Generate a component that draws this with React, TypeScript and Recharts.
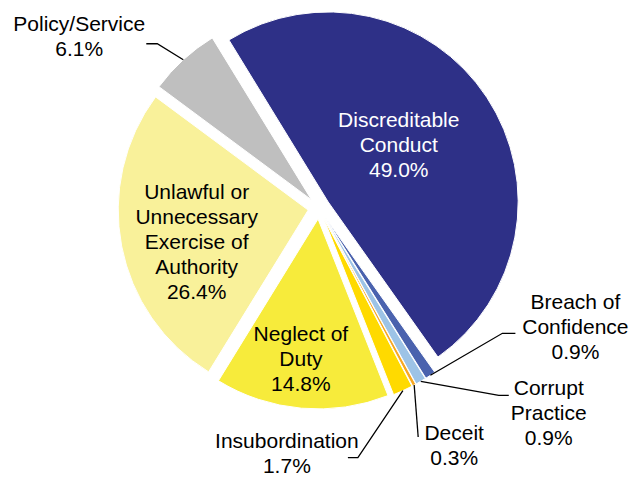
import React from 'react';
import { PieChart, Pie, Cell, Sector } from 'recharts';

// ---- data ----
const categories: string[] = [
  'Discreditable Conduct',
  'Breach of Confidence',
  'Corrupt Practice',
  'Deceit',
  'Insubordination',
  'Neglect of Duty',
  'Unlawful or Unnecessary Exercise of Authority',
  'Policy/Service',
];
const values: number[] = [49.0, 0.9, 0.9, 0.3, 1.7, 14.8, 26.4, 6.1];
const labelLines: string[][] = [
  ['Discreditable', 'Conduct'],
  ['Breach of', 'Confidence'],
  ['Corrupt', 'Practice'],
  ['Deceit'],
  ['Insubordination'],
  ['Neglect of', 'Duty'],
  ['Unlawful or', 'Unnecessary', 'Exercise of', 'Authority'],
  ['Policy/Service'],
];

// ---- styles ----
const COLORS = ['#2E3087', '#4A62AE', '#9DC3E6', '#F7A823', '#FFDA00', '#F7EB3B', '#F9F19A', '#BFBFBF'];
const EXPLODE = 11;
const FONT = '"Liberation Sans", Arial, sans-serif';
const FONT_SIZE = 21;
const LINE_H = 25;

type LabelSpec =
  | { kind: 'in'; r: number; da: number; color: string }
  | { kind: 'out'; e: [number, number]; h: number; t: [number, number] };

const LABEL_SPEC: LabelSpec[] = [
  { kind: 'in', r: 0.48, da: 5.9, color: '#FFFFFF' },
  { kind: 'out', e: [72, -42], h: 13, t: [60, -7] },
  { kind: 'out', e: [78, 14], h: 10, t: [40, 17] },
  { kind: 'out', e: [4, 52], h: 0, t: [36, 7.5] },
  { kind: 'out', e: [-45, 67], h: -10, t: [-61, -4.5] },
  { kind: 'in', r: 0.74, da: -2, color: '#000000' },
  { kind: 'in', r: 0.61, da: 4.9, color: '#000000' },
  { kind: 'out', e: [-26, -16], h: -11, t: [-67, -8] },
];

const data = categories.map((name, i) => ({ name, value: values[i] }));

const RAD = Math.PI / 180;

function TextBlock({ x, y, lines, color }: { x: number; y: number; lines: string[]; color: string }) {
  const n = lines.length;
  return (
    <g>
      {lines.map((ln, k) => (
        <text
          key={k}
          x={x}
          y={y + (k - (n - 1) / 2) * LINE_H}
          textAnchor="middle"
          dominantBaseline="central"
          fontFamily={FONT}
          fontSize={FONT_SIZE}
          fill={color}
        >
          {ln}
        </text>
      ))}
    </g>
  );
}

const renderLabel = (p: any) => {
  const i: number = p.index;
  const mid: number = p.midAngle;
  const R: number = p.outerRadius;
  const ex = p.cx + EXPLODE * Math.cos(-mid * RAD);
  const ey = p.cy + EXPLODE * Math.sin(-mid * RAD);
  const spec = LABEL_SPEC[i];
  const lines = [...labelLines[i], `${values[i].toFixed(1)}%`];
  let deco: React.ReactNode = null;
  if (spec.kind === 'in') {
    const a = mid + spec.da;
    const x = ex + spec.r * R * Math.cos(-a * RAD);
    const y = ey + spec.r * R * Math.sin(-a * RAD);
    deco = <TextBlock x={x} y={y} lines={lines} color={spec.color} />;
  } else {
    const sx = ex + R * Math.cos(-mid * RAD);
    const sy = ey + R * Math.sin(-mid * RAD);
    const bx = sx + spec.e[0];
    const by = sy + spec.e[1];
    const tx = bx + spec.h;
    const ty = by;
    deco = (
      <g>
        <polyline
          points={`${sx},${sy} ${bx},${by} ${tx},${ty}`}
          fill="none"
          stroke="#000"
          strokeWidth={1.3}
        />
        <TextBlock x={tx + spec.t[0]} y={ty + spec.t[1]} lines={lines} color="#000000" />
      </g>
    );
  }
  return (
    <g key={`lbl-${i}`}>
      <Sector
        cx={ex}
        cy={ey}
        innerRadius={0}
        outerRadius={R}
        startAngle={p.startAngle}
        endAngle={p.endAngle}
        fill={COLORS[i]}
        stroke="#FFFFFF"
        strokeWidth={1}
      />
      {deco}
    </g>
  );
};

export default function App() {
  return (
    <div style={{ position: 'absolute', left: 0, top: 0, width: 636, height: 477, background: '#fff' }}>
      <PieChart width={636} height={477} margin={{ top: 0, right: 0, bottom: 0, left: 0 }}>
        <Pie
          data={data}
          dataKey="value"
          nameKey="name"
          cx={319}
          cy={208}
          innerRadius={0}
          outerRadius={190}
          startAngle={121.5}
          endAngle={-238.5}
          isAnimationActive={false}
          labelLine={false}
          label={renderLabel}
          stroke="none"
        >
          {data.map((d, i) => (
            <Cell key={d.name} fill="none" stroke="none" />
          ))}
        </Pie>
      </PieChart>
    </div>
  );
}
